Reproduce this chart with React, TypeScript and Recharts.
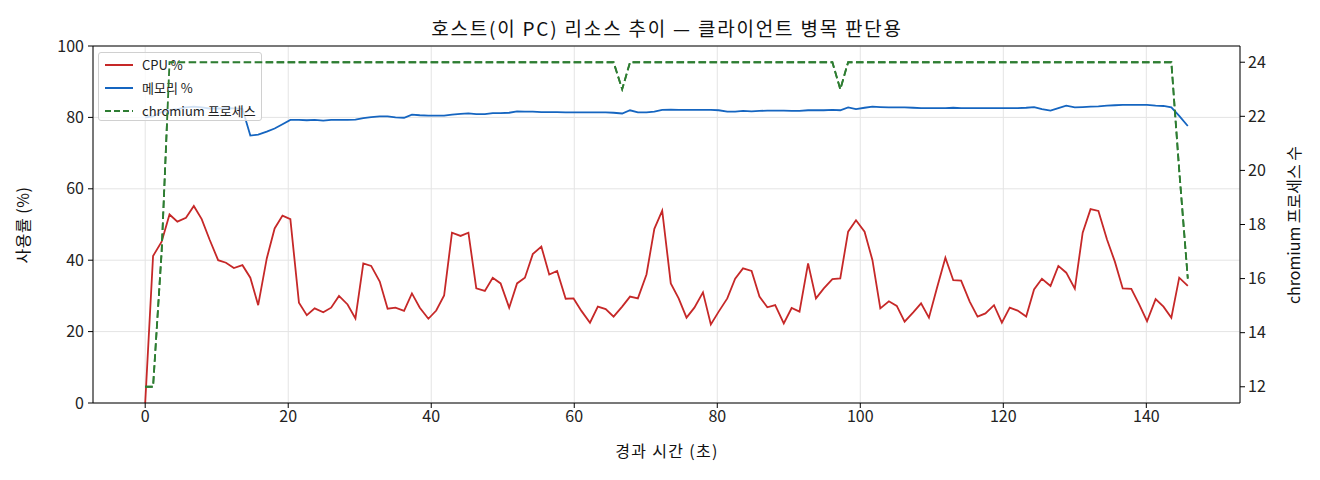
import React from 'react';
import { ComposedChart, Line, XAxis, YAxis, CartesianGrid, ReferenceLine } from 'recharts';

// elapsed time of each sample (s)
const TIME_S = [
  0, 1.1, 2.3, 3.4, 4.5, 5.7, 6.8, 7.9, 9.0, 10.2,
  11.3, 12.4, 13.6, 14.7, 15.8, 17.0, 18.1, 19.2, 20.3, 21.5,
  22.6, 23.7, 24.9, 26.0, 27.1, 28.3, 29.4, 30.5, 31.6, 32.8,
  33.9, 35.0, 36.2, 37.3, 38.4, 39.6, 40.7, 41.8, 42.9, 44.1,
  45.2, 46.3, 47.5, 48.6, 49.7, 50.9, 52.0, 53.1, 54.2, 55.4,
  56.5, 57.6, 58.8, 59.9, 61.0, 62.2, 63.3, 64.4, 65.5, 66.7,
  67.8, 68.9, 70.1, 71.2, 72.3, 73.5, 74.6, 75.7, 76.8, 78.0,
  79.1, 80.2, 81.4, 82.5, 83.6, 84.8, 85.9, 87.0, 88.1, 89.3,
  90.4, 91.5, 92.7, 93.8, 94.9, 96.1, 97.2, 98.3, 99.4, 100.6,
  101.7, 102.8, 104.0, 105.1, 106.2, 107.4, 108.5, 109.6, 110.7, 111.9,
  113.0, 114.1, 115.3, 116.4, 117.5, 118.7, 119.8, 120.9, 122.0, 123.2,
  124.3, 125.4, 126.6, 127.7, 128.8, 130.0, 131.1, 132.2, 133.3, 134.5,
  135.6, 136.7, 137.9, 139.0, 140.1, 141.3, 142.4, 143.5, 144.6, 145.8,
];

const CPU_PCT = [
  0, 41.2, 45.2, 52.8, 50.8, 51.9, 55.2, 51.5, 45.8, 40.0,
  39.3, 37.8, 38.6, 35.1, 27.4, 40.5, 48.9, 52.5, 51.5, 28.1,
  24.6, 26.5, 25.4, 26.7, 30.0, 27.6, 23.7, 39.1, 38.4, 34.0,
  26.4, 26.7, 25.8, 30.7, 26.7, 23.6, 25.9, 30.1, 47.7, 46.8,
  47.7, 32.1, 31.4, 35.1, 33.5, 26.7, 33.5, 35.1, 41.7, 43.8,
  36.0, 37.0, 29.2, 29.3, 25.8, 22.5, 27.0, 26.3, 24.2, 27.0,
  29.8, 29.3, 36.0, 48.8, 53.9, 33.5, 29.3, 23.9, 26.7, 31.0,
  22.0, 25.6, 29.3, 34.8, 37.7, 37.0, 29.8, 26.8, 27.4, 22.3,
  26.6, 25.6, 39.1, 29.3, 32.1, 34.7, 34.9, 48.0, 51.2, 48.0,
  40.0, 26.5, 28.5, 27.2, 22.8, 25.4, 27.9, 23.9, 32.1, 40.7,
  34.4, 34.3, 28.4, 24.2, 25.1, 27.4, 22.5, 26.7, 25.9, 24.2,
  31.8, 34.8, 32.8, 38.4, 36.5, 32.0, 47.7, 54.3, 53.8, 45.8,
  39.6, 32.1, 32.0, 27.6, 22.9, 29.1, 27.0, 23.9, 35.1, 32.8,
];

const MEM_PCT = [
  80.0, 80.3, 81.5, 82.0, 82.3, 82.8, 83.0, 82.8, 82.5, 82.5,
  82.6, 82.5, 82.4, 74.9, 75.2, 76.0, 76.9, 78.1, 79.3, 79.3,
  79.2, 79.3, 79.1, 79.3, 79.3, 79.3, 79.4, 79.8, 80.1, 80.3,
  80.3, 80.0, 79.9, 80.8, 80.6, 80.5, 80.5, 80.5, 80.8, 81.0,
  81.1, 80.9, 80.9, 81.2, 81.2, 81.3, 81.7, 81.6, 81.6, 81.5,
  81.5, 81.5, 81.4, 81.4, 81.4, 81.4, 81.4, 81.4, 81.3, 81.1,
  82.0, 81.4, 81.4, 81.6, 82.1, 82.2, 82.1, 82.1, 82.1, 82.1,
  82.1, 82.0, 81.6, 81.6, 81.8, 81.7, 81.8, 81.9, 81.9, 81.9,
  81.8, 81.8, 82.0, 82.0, 82.0, 82.1, 82.0, 82.8, 82.3, 82.7,
  83.0, 82.9, 82.8, 82.8, 82.8, 82.7, 82.6, 82.6, 82.6, 82.6,
  82.7, 82.6, 82.6, 82.6, 82.6, 82.6, 82.6, 82.6, 82.6, 82.7,
  82.9, 82.3, 81.9, 82.6, 83.3, 82.8, 82.9, 83.0, 83.1, 83.3,
  83.4, 83.5, 83.5, 83.5, 83.5, 83.3, 83.2, 82.8, 80.4, 77.6,
];

const CHROMIUM_PROCS = [
  12, 12, 17, 24, 24, 24, 24, 24, 24, 24,
  24, 24, 24, 24, 24, 24, 24, 24, 24, 24,
  24, 24, 24, 24, 24, 24, 24, 24, 24, 24,
  24, 24, 24, 24, 24, 24, 24, 24, 24, 24,
  24, 24, 24, 24, 24, 24, 24, 24, 24, 24,
  24, 24, 24, 24, 24, 24, 24, 24, 24, 23,
  24, 24, 24, 24, 24, 24, 24, 24, 24, 24,
  24, 24, 24, 24, 24, 24, 24, 24, 24, 24,
  24, 24, 24, 24, 24, 24, 23, 24, 24, 24,
  24, 24, 24, 24, 24, 24, 24, 24, 24, 24,
  24, 24, 24, 24, 24, 24, 24, 24, 24, 24,
  24, 24, 24, 24, 24, 24, 24, 24, 24, 24,
  24, 24, 24, 24, 24, 24, 24, 24, 20, 16,
];

const X_TICKS = [0, 20, 40, 60, 80, 100, 120, 140];
const LEFT_TICKS = [0, 20, 40, 60, 80, 100];
const RIGHT_TICKS = [12, 14, 16, 18, 20, 22, 24];

const TITLE = '호스트(이 PC) 리소스 추이 — 클라이언트 병목 판단용';
const X_LABEL = '경과 시간 (초)';
const LEFT_LABEL = '사용률 (%)';
const RIGHT_LABEL = 'chromium 프로세스 수';
const SERIES_NAMES = ['CPU %', '메모리 %', 'chromium 프로세스'];

const data = TIME_S.map((t, i) => ({
  t,
  cpu: CPU_PCT[i],
  mem: MEM_PCT[i],
  procs: CHROMIUM_PROCS[i],
}));

const W = 1304;
const H = 464;
const FONT = "'Noto Sans CJK KR', 'Noto Sans', sans-serif";
const RED = '#c62828';
const BLUE = '#1565c0';
const GREEN = '#2e7d32';
const DASH = '7.5 3.5';
const X_DOMAIN: [number, number] = [-7.3, 153.1];
const L_DOMAIN: [number, number] = [0, 100];
const R_DOMAIN: [number, number] = [11.4, 24.6];
const tickStyle = { fontSize: 16, fill: '#222', fontFamily: FONT };

const LegendBox = () => {
  const items = [
    { name: SERIES_NAMES[0], color: RED, dash: undefined },
    { name: SERIES_NAMES[1], color: BLUE, dash: undefined },
    { name: SERIES_NAMES[2], color: GREEN, dash: '6 3' },
  ];
  return (
    <div
      style={{
        position: 'absolute',
        left: 90,
        top: 44,
        width: 164,
        height: 69,
        border: '1px solid #d0d0d0',
        borderRadius: 3,
        background: 'rgba(255,255,255,0.8)',
        boxSizing: 'border-box',
        fontFamily: FONT,
        fontSize: 13,
        color: '#222',
      }}
    >
      {items.map((it, i) => (
        <div key={it.name} style={{ position: 'absolute', left: 5, top: 3 + i * 23, height: 18, display: 'flex', alignItems: 'center' }}>
          <svg width={30} height={18} style={{ display: 'block' }}>
            <line x1={1} y1={9} x2={29} y2={9} stroke={it.color} strokeWidth={2} strokeDasharray={it.dash} />
          </svg>
          <span style={{ marginLeft: 8, whiteSpace: 'nowrap', lineHeight: '18px' }}>{it.name}</span>
        </div>
      ))}
    </div>
  );
};

export default function App() {
  return (
    <div style={{ position: 'relative', width: W, height: H, fontFamily: FONT, background: '#fff' }}>
      <ComposedChart width={W} height={H} data={data} margin={{ top: 38, right: 22, bottom: 29, left: 25 }}>
        <CartesianGrid yAxisId="left" stroke="#e4e4e4" strokeWidth={1} />
        <XAxis
          dataKey="t"
          type="number"
          domain={X_DOMAIN}
          ticks={X_TICKS}
          allowDataOverflow
          height={40}
          tickSize={5}
          tickMargin={3}
          tick={tickStyle}
          axisLine={{ stroke: '#000' }}
          tickLine={{ stroke: '#000' }}
        />
        <YAxis
          yAxisId="left"
          type="number"
          domain={L_DOMAIN}
          ticks={LEFT_TICKS}
          width={60}
          tickSize={5}
          tickMargin={4}
          tick={tickStyle}
          axisLine={{ stroke: '#000' }}
          tickLine={{ stroke: '#000' }}
        />
        <YAxis
          yAxisId="right"
          orientation="right"
          type="number"
          domain={R_DOMAIN}
          ticks={RIGHT_TICKS}
          allowDataOverflow
          width={50}
          tickSize={5}
          tickMargin={3}
          tick={tickStyle}
          axisLine={{ stroke: '#000' }}
          tickLine={{ stroke: '#000' }}
        />
        <ReferenceLine yAxisId="left" y={100} stroke="#000" strokeWidth={1} />
        <Line yAxisId="left" type="linear" dataKey="cpu" name={SERIES_NAMES[0]} stroke={RED} strokeWidth={1.8} dot={false} isAnimationActive={false} />
        <Line yAxisId="left" type="linear" dataKey="mem" name={SERIES_NAMES[1]} stroke={BLUE} strokeWidth={1.8} dot={false} isAnimationActive={false} />
        <Line yAxisId="right" type="linear" dataKey="procs" name={SERIES_NAMES[2]} stroke={GREEN} strokeWidth={1.8} strokeDasharray={DASH} dot={false} isAnimationActive={false} />
      </ComposedChart>
      <LegendBox />
      {/* chromium line redrawn above the legend, as in the source figure */}
      <div style={{ position: 'absolute', left: 0, top: 0, pointerEvents: 'none' }}>
        <ComposedChart width={W} height={H} data={data} margin={{ top: 38, right: 72, bottom: 69, left: 85 }}>
          <XAxis dataKey="t" type="number" domain={X_DOMAIN} allowDataOverflow hide />
          <YAxis yAxisId="right" type="number" domain={R_DOMAIN} allowDataOverflow hide />
          <Line yAxisId="right" type="linear" dataKey="procs" stroke={GREEN} strokeWidth={1.8} strokeDasharray={DASH} dot={false} isAnimationActive={false} />
        </ComposedChart>
      </div>
      <div style={{ position: 'absolute', left: 0, width: W, top: 10, lineHeight: '20px', textAlign: 'center', paddingLeft: 14, boxSizing: 'border-box', fontSize: 19, letterSpacing: 1.8, color: '#111', whiteSpace: 'nowrap' }}>
        {TITLE}
      </div>
      <div style={{ position: 'absolute', left: 0, width: W, top: 433, lineHeight: '18px', textAlign: 'center', paddingLeft: 14, boxSizing: 'border-box', fontSize: 16, letterSpacing: 1.3, color: '#111' }}>
        {X_LABEL}
      </div>
      <div style={{ position: 'absolute', left: 14, top: 217, lineHeight: '18px', transform: 'translate(-50%, -50%) rotate(-90deg)', fontSize: 16, letterSpacing: 0.5, color: '#111', whiteSpace: 'nowrap' }}>
        {LEFT_LABEL}
      </div>
      <div style={{ position: 'absolute', left: 1285, top: 217, lineHeight: '18px', transform: 'translate(-50%, -50%) rotate(-90deg)', fontSize: 16, color: '#111', whiteSpace: 'nowrap' }}>
        {RIGHT_LABEL}
      </div>
    </div>
  );
}
